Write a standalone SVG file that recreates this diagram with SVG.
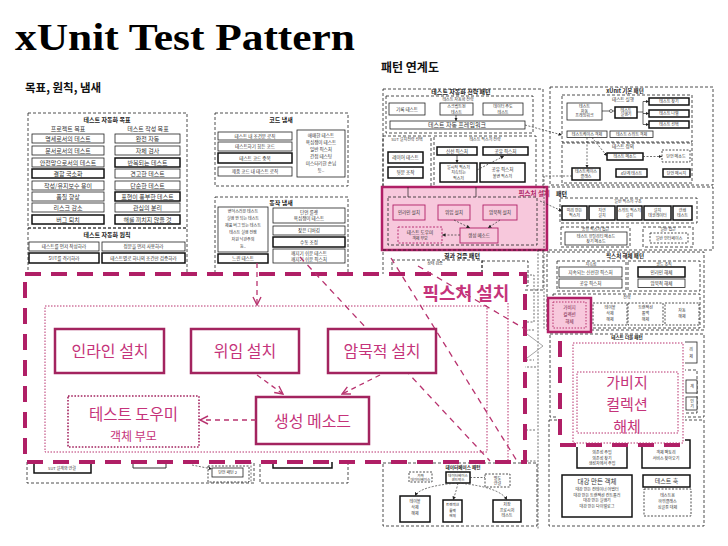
<svg xmlns="http://www.w3.org/2000/svg" width="728" height="546" viewBox="0 0 728 546">
<style>
text{font-family:"Noto Sans CJK KR","Noto Sans",sans-serif;fill:#333;text-anchor:middle}
.t{font-size:6px}
.s{font-size:4.6px}
.xs{font-size:4px}
.h{font-weight:bold;fill:#222}
.d{fill:none;stroke:#222;stroke-width:.8;stroke-dasharray:3 2}
.dd{fill:#fff;stroke:#222;stroke-width:.8;stroke-dasharray:2 1.5}
.b{fill:#fff;stroke:#222;stroke-width:.8}
.bb{fill:#fff;stroke:#111;stroke-width:1.5}
.k{fill:none;stroke:#222;stroke-width:.7}
.kd{fill:none;stroke:#333;stroke-width:.7;stroke-dasharray:2 1.5}
.pk{fill:#f7c8dc;stroke:#b01f66;stroke-width:.9}
.pkd{fill:#f7c8dc;stroke:#b01f66;stroke-width:.9;stroke-dasharray:2 1.5}
.P{fill:#c5337a}
.pb{fill:#fff;stroke:#a3245f;stroke-width:2.5}
.pl{fill:none;stroke:#b8336f;stroke-width:1.3;stroke-dasharray:6 5}
.pa{fill:none;stroke:#b8336f;stroke-width:1.3;stroke-dasharray:5 4}
.pdot{fill:none;stroke:#b8336f;stroke-width:1;stroke-dasharray:1.5 1.5}
.big{fill:#fff;stroke:#b01f66;stroke-width:4;stroke-dasharray:16 10}
</style>
<defs>
<marker id="pa" viewBox="0 0 10 10" refX="9" refY="5" markerWidth="10" markerHeight="10" markerUnits="userSpaceOnUse" orient="auto"><path d="M1,1 L9,5 L1,9" fill="none" stroke="#b8336f" stroke-width="1.4"/></marker>
<marker id="ka" viewBox="0 0 6 6" refX="6" refY="3" markerWidth="3.5" markerHeight="3.5" markerUnits="userSpaceOnUse" orient="auto"><path d="M0,0 L6,3 L0,6z" fill="#222"/></marker>
</defs>
<rect width="728" height="546" fill="#fff"/>

<text x="15" y="50" style="font-family:'Liberation Serif',serif;font-weight:bold;font-size:38px;fill:#000;text-anchor:start" textLength="340" lengthAdjust="spacingAndGlyphs">xUnit Test Pattern</text>
<text x="25" y="92" style="font-size:11.5px;font-weight:bold;fill:#111;text-anchor:start">목표, 원칙, 냄새</text>
<text x="381" y="72" style="font-size:12px;font-weight:bold;fill:#111;text-anchor:start">패턴 연계도</text>

<!-- Left: goals -->
<g id="goals">
<rect class="d" x="28" y="113" width="159" height="115"/>
<text class="t h" x="107" y="122">테스트 자동화 목표</text>
<text class="t" x="68" y="131">프로젝트 목표</text>
<text class="t" x="148" y="131">테스트 작성 목표</text>
<rect class="b" x="32" y="134" width="72" height="9"/><text class="t" x="68" y="140.7">명세로서의 테스트</text>
<rect class="b" x="32" y="146" width="72" height="9"/><text class="t" x="68" y="152.7">문서로서의 테스트</text>
<rect class="b" x="32" y="158" width="72" height="9"/><text class="t" x="68" y="164.7">안전망으로서의 테스트</text>
<rect class="bb" x="32" y="169" width="72" height="9"/><text class="t" x="68" y="175.7">결함 국소화</text>
<rect class="b" x="32" y="181" width="72" height="9"/><text class="t" x="68" y="187.7">작성/유지보수 용이</text>
<rect class="b" x="32" y="192" width="72" height="9"/><text class="t" x="68" y="198.7">품질 향상</text>
<rect class="b" x="32" y="203" width="72" height="9"/><text class="t" x="68" y="209.7">리스크 감소</text>
<rect class="bb" x="32" y="215" width="72" height="9"/><text class="t" x="68" y="221.7">버그 퇴치</text>
<rect class="b" x="115" y="134" width="65" height="9"/><text class="t" x="147.5" y="140.7">완전 자동</text>
<rect class="b" x="115" y="146" width="65" height="9"/><text class="t" x="147.5" y="152.7">자체 검사</text>
<rect class="bb" x="115" y="158" width="65" height="9"/><text class="t" x="147.5" y="164.7">반복되는 테스트</text>
<rect class="b" x="115" y="169" width="65" height="9"/><text class="t" x="147.5" y="175.7">견고한 테스트</text>
<rect class="b" x="115" y="181" width="65" height="9"/><text class="t" x="147.5" y="187.7">단순한 테스트</text>
<rect class="bb" x="115" y="192" width="65" height="9"/><text class="t" x="147.5" y="198.7">표현이 풍부한 테스트</text>
<rect class="b" x="115" y="203" width="65" height="9"/><text class="t" x="147.5" y="209.7">관심의 분리</text>
<rect class="bb" x="115" y="215" width="65" height="9"/><text class="t" x="147.5" y="221.7">해를 끼치지 않을 것</text>
</g>

<g id="principles">
<rect class="d" x="28" y="228" width="159" height="52"/>
<text class="t h" x="107" y="237">테스트 자동화 원칙</text>
<rect class="b" x="29" y="242" width="70" height="9"/><text class="s" x="64" y="248.3">테스트를 먼저 작성하라</text>
<rect class="b" x="102" y="242" width="83" height="9"/><text class="s" x="143.5" y="248.3">정문을 먼저 사용하라</text>
<rect class="bb" x="29" y="253" width="70" height="10"/><text class="s" x="64" y="259.8">SUT를 격리하라</text>
<rect class="bb" x="102" y="253" width="83" height="10"/><text class="s" x="143.5" y="259.8">테스트별로 하나의 조건만 검증하라</text>
</g>

<!-- Middle: smells -->
<g id="code-smells">
<rect class="d" x="215" y="113" width="133" height="73"/>
<text class="t h" x="281" y="122">코드 냄새</text>
<rect class="b" x="218" y="132" width="74" height="8"/><text class="s" x="255" y="137.7">테스트 내 조건문 로직</text>
<rect class="b" x="218" y="142" width="74" height="9"/><text class="s" x="255" y="148.2">테스트하기 힘든 코드</text>
<rect class="bb" x="218" y="153" width="74" height="10"/><text class="s" x="255" y="159.7">테스트 코드 중복</text>
<rect class="b" x="218" y="167" width="74" height="9"/><text class="s" x="255" y="173.2">제품 코드 내 테스트 로직</text>
<rect class="b" x="297" y="130" width="48" height="47"/>
<text class="s" x="321" y="137">애매한 테스트</text>
<text class="s" x="321" y="144">욕심쟁이 테스트</text>
<text class="s" x="321" y="151">일반 픽스처</text>
<text class="s" x="321" y="158">간접 테스팅</text>
<text class="s" x="321" y="165">미스터리한 손님</text>
<text class="s" x="321" y="172">등..</text>
</g>

<g id="behavior-smells">
<rect class="d" x="215" y="197" width="133" height="90"/>
<text class="t h" x="281" y="205">동작 냄새</text>
<rect class="b" x="218" y="207" width="50" height="45"/>
<text class="xs" x="243" y="213">변덕스러운 테스트</text>
<text class="xs" x="243" y="220">실행 안 되는 테스트</text>
<text class="xs" x="243" y="227">제품 버그 있는 테스트</text>
<text class="xs" x="243" y="234">테스트 실행 전쟁</text>
<text class="xs" x="243" y="241">자원 낙관주의</text>
<text class="xs" x="243" y="248">등..</text>
<rect class="bb" x="218" y="254" width="50" height="9"/><text class="s" x="243" y="260.3">느린 테스트</text>
<rect class="b" x="273" y="208" width="72" height="15"/><text class="s" x="309" y="214">단언 룰렛</text><text class="s" x="309" y="220">욕심쟁이 테스트</text>
<rect class="b" x="273" y="226" width="72" height="9"/><text class="s" x="309" y="232.2">잦은 디버깅</text>
<rect class="bb" x="273" y="237" width="72" height="10"/><text class="s" x="309" y="243.7">수동 조정</text>
<rect class="b" x="273" y="249" width="72" height="14"/><text class="s" x="309" y="255">깨지기 쉬운 테스트</text><text class="s" x="309" y="261">깨지기 쉬운 픽스처</text>
</g>

<!-- Right: pattern map -->
<g id="strategy-patterns">
<rect class="d" x="383" y="89" width="160" height="101"/>
<text class="t h" x="461" y="94">테스트 자동화 전략 패턴</text>
<rect class="d" x="386" y="96" width="147" height="37"/>
<text class="xs" x="458" y="101">테스트 자동화 전략</text>
<rect class="b" x="389" y="103" width="36" height="12"/><text class="s" x="407" y="110.6">기록 테스트</text>
<rect class="b" x="440" y="103" width="33" height="12"/><text class="xs" x="456.5" y="108">스크립트된</text><text class="xs" x="456.5" y="113.5">테스트</text>
<rect class="b" x="483" y="103" width="40" height="12"/><text class="xs" x="503" y="108">데이터 주도</text><text class="xs" x="503" y="113.5">테스트</text>
<rect class="b" x="390" y="121" width="135" height="8"/><text class="t" x="457" y="127.2">테스트 자동 프레임워크</text>
<path class="k" d="M456,115 V121" marker-end="url(#ka)"/>
</g>
<g id="sut-strategy">
<rect class="d" x="383" y="136" width="48" height="60"/>
<text class="xs" x="407" y="141">SUT 설치전략 선택</text>
<rect class="bb" x="388" y="152" width="35" height="11"/><text class="s" x="405.5" y="159.4">레이어 테스트</text>
<rect class="bb" x="388" y="167" width="35" height="11"/><text class="s" x="405.5" y="174.4">뒷문 조작</text>
</g>
<g id="fixture-strategy">
<rect class="d" x="434" y="136" width="102" height="60"/>
<text class="xs" x="485" y="141">테스트 픽스처 전략</text>
<rect class="bb" x="437" y="147" width="40" height="8"/><text class="s" x="457" y="152.7">신선 픽스처</text>
<rect class="bb" x="483" y="147" width="45" height="8"/><text class="s" x="505.5" y="152.7">공유 픽스처</text>
<rect class="bb" x="440" y="163" width="37" height="19"/><text class="xs" x="458.5" y="168.5">일시적 픽스처</text><text class="xs" x="458.5" y="174">지속되는</text><text class="xs" x="458.5" y="179.5">픽스처</text>
<rect class="bb" x="480" y="163" width="45" height="19"/><text class="s" x="502.5" y="171">공유 픽스처</text><text class="xs" x="502.5" y="177.5">불변 픽스처</text>
<path class="k" d="M457,155 V163" marker-end="url(#ka)"/>
<path class="kd" d="M477,170 L504,156" marker-end="url(#ka)"/>
</g>

<g id="xunit-basic">
<rect class="d" x="550" y="87" width="163" height="98"/>
<text class="t h" x="625" y="92.5" style="font-size:5.5px">xUnit 기본 패턴</text>
<rect class="d" x="562" y="95" width="130" height="47"/>
<text class="s" x="623" y="101">테스트 실행</text>
<rect class="b" x="567" y="103" width="35" height="17"/><text class="xs" x="584.5" y="108">테스트</text><text class="xs" x="584.5" y="112.5">자동</text><text class="xs" x="584.5" y="117">프레임워크</text>
<rect class="bb" x="615" y="107" width="22" height="11"/><text class="xs" x="626" y="111.5">테스트</text><text class="xs" x="626" y="116">실행기</text>
<rect class="bb" x="649" y="98" width="40" height="7"/><text class="xs" x="669" y="103">테스트 찾기</text>
<rect class="bb" x="649" y="110" width="40" height="7"/><text class="xs" x="669" y="115">테스트 나열</text>
<rect class="bb" x="649" y="121" width="40" height="7"/><text class="xs" x="669" y="126">테스트 선택</text>
<path class="k" d="M602,111 H615"/><circle cx="611" cy="111" r="1.5" fill="#fff" stroke="#222" stroke-width=".6"/>
<path class="k" d="M637,112 H643 M643,101.5 V124.5"/>
<path class="k" d="M643,101.5 H649" marker-end="url(#ka)"/>
<path class="k" d="M643,113.5 H649" marker-end="url(#ka)"/>
<path class="k" d="M643,124.5 H649" marker-end="url(#ka)"/>
<rect class="b" x="567" y="131" width="40" height="6.5"/><text class="xs" x="587" y="135.8">테스트케이스 객체</text>
<rect class="b" x="610" y="131" width="43" height="6.5"/><text class="xs" x="631.5" y="135.8">테스트 스위트 객체</text>
<rect class="d" x="562" y="143" width="130" height="40"/>
<text class="s" x="623" y="148">테스트 정의</text>
<rect class="bb" x="607" y="153" width="36" height="7"/><text class="xs" x="625" y="158">테스트 메소드</text>
<rect class="dd" x="662" y="150" width="28" height="12"/><text class="xs" x="676" y="157.5">단언 메소드</text>
<rect class="bb" x="572" y="168" width="28" height="12"/><text class="xs" x="586" y="173">테스트케이스</text><text class="xs" x="586" y="178">클래스</text>
<rect class="bb" x="616" y="169" width="31" height="8"/><text class="xs" x="631.5" y="174.5">4단계 테스트</text>
<rect class="bb" x="663" y="169" width="27" height="8"/><text class="xs" x="676.5" y="174.5">단언 메시지</text>
</g>

<g id="fixture-setup-more">
<rect class="d" x="547" y="187" width="166" height="63"/>
<text class="t h" x="556" y="196" style="text-anchor:start">패턴</text>
<rect class="d" x="560" y="198" width="137" height="25"/>
<text class="xs" x="628" y="203">일반 픽스처 구조</text>
<rect class="bb" x="562" y="206" width="25" height="14"/><text class="xs" x="574.5" y="211.5">미리 만든</text><text class="xs" x="574.5" y="217">픽스처</text>
<rect class="bb" x="589" y="206" width="26" height="14"/><text class="xs" x="602" y="211.5">지연</text><text class="xs" x="602" y="217">설치</text>
<rect class="bb" x="617" y="206" width="25" height="14"/><text class="xs" x="629.5" y="211.5">스위트 픽스처</text><text class="xs" x="629.5" y="217">설치</text>
<rect class="bb" x="644" y="206" width="27" height="14"/><text class="xs" x="657.5" y="211.5">설치</text><text class="xs" x="657.5" y="217">데코레이터</text>
<rect class="bb" x="673" y="206" width="19" height="14"/><text class="xs" x="682.5" y="211.5">연쇄</text><text class="xs" x="682.5" y="217">테스트</text>
<rect class="d" x="561" y="227" width="69" height="20"/>
<text class="xs" x="595.5" y="231">공유 픽스처 접근</text>
<rect class="b" x="565" y="232" width="62" height="13"/><text class="xs" x="596" y="237.5">테스트 유틸리티 메소드</text><text class="xs" x="596" y="243">찾기 메소드</text>
<rect class="d" x="643" y="227" width="50" height="20"/>
<text class="xs" x="668" y="231">일반 접근</text>
<rect class="dd" x="650" y="233" width="38" height="10"/><text class="xs" x="669" y="239.5">일반 인터페이스</text>
</g>

<g id="fixture-setup-thumb">
<rect x="382" y="187" width="165" height="63" fill="#f7c8dc" stroke="#b01f66" stroke-width="2.5"/>
<rect class="d" x="388" y="197" width="149" height="48"/>
<rect class="pk" x="393" y="205" width="32" height="15"/><text class="s" x="409" y="214">인라인 설치</text>
<rect class="pk" x="438" y="205" width="32" height="15"/><text class="s" x="454" y="214">위임 설치</text>
<rect class="pk" x="483" y="205" width="34" height="15"/><text class="s" x="500" y="214">암묵적 설치</text>
<rect class="pkd" x="398" y="227" width="44" height="16"/><text class="s" x="420" y="234">테스트 도우미</text><text class="xs" x="420" y="240">객체 부모</text>
<rect class="pk" x="460" y="228" width="38" height="15"/><text class="s" x="479" y="237">생성 메소드</text>
<path class="kd" d="M454,220 L470,228" marker-end="url(#ka)"/>
<path class="kd" d="M500,220 L488,228" marker-end="url(#ka)"/>
<path class="kd" d="M460,235 H442" marker-end="url(#ka)"/>
<path class="k" d="M408,187 V197 M476,187 V197"/>
<text class="t h" x="550" y="196" style="text-anchor:end;fill:#b01f66;font-size:6.5px">픽스처 설치</text>
</g>

<g id="result-verification">
<rect class="d" x="383" y="250" width="160" height="40"/>
<text class="t h" x="462" y="258">결과 검증 패턴</text>
<rect class="d" x="392" y="260" width="90" height="25"/>
<text class="xs" x="435" y="264.5">상태 검증</text>
<rect class="d" x="482" y="261" width="46" height="25"/>
</g>

<g id="fixture-teardown">
<rect class="d" x="547" y="252" width="157" height="78"/>
<text class="t h" x="625" y="258" style="font-size:5.5px">픽스처 해체 패턴</text>
<rect class="d" x="557" y="261" width="69" height="30"/>
<text class="xs" x="591" y="265.5">지속성</text>
<rect class="b" x="559" y="267" width="63" height="10"/><text class="s" x="590.5" y="273.6">지속되는 신선한 픽스처</text>
<rect class="b" x="559" y="279" width="63" height="9"/><text class="s" x="590.5" y="285.2">공유 픽스처</text>
<rect class="d" x="628" y="261" width="72" height="30"/>
<text class="xs" x="664" y="265.5">코드 조직</text>
<rect class="bb" x="638" y="267" width="47" height="10"/><text class="s" x="661.5" y="273.6">인라인 해체</text>
<rect class="b" x="638" y="279" width="47" height="8.5"/><text class="s" x="661.5" y="285">암묵적 해체</text>
<rect class="d" x="553" y="294" width="147" height="34"/>
<text class="xs" x="627" y="298.5">전략</text>
<rect class="dd" x="593" y="303" width="34" height="22"/><text class="xs" x="610" y="309">테이블</text><text class="xs" x="610" y="315">삭제</text><text class="xs" x="610" y="321">해체</text>
<rect class="dd" x="628" y="303" width="35" height="22"/><text class="xs" x="645.5" y="309">트랜잭션</text><text class="xs" x="645.5" y="315">롤백</text><text class="xs" x="645.5" y="321">해체</text>
<rect class="dd" x="665" y="303" width="34" height="22"/><text class="xs" x="682" y="312">자동</text><text class="xs" x="682" y="318">해체</text>
</g>
<g id="garbage-thumb">
<rect x="548" y="298" width="43" height="34" fill="#f7c8dc" stroke="#b01f66" stroke-width="2.5"/>
<rect class="pdot" x="553" y="302" width="33" height="26"/>
<text class="s" x="569.5" y="309" style="fill:#7a1c4a">가비지</text>
<text class="s" x="569.5" y="316" style="fill:#7a1c4a">컬렉션</text>
<text class="s" x="569.5" y="323" style="fill:#7a1c4a">해체</text>
</g>

<g id="test-double">
<rect class="d" x="550" y="334" width="154" height="83"/>
<text class="s h" x="627" y="339">테스트 더블 패턴</text>
<rect class="b" x="683" y="342" width="14" height="21"/><text class="xs" x="691" y="351">리</text><text class="xs" x="691" y="358">체</text>
<rect class="d" x="683" y="370" width="14" height="43"/>
<rect class="b" x="686" y="380" width="11" height="13"/><text class="xs" x="692" y="388">계</text>
<rect class="b" x="686" y="397" width="11" height="13"/><text class="xs" x="692" y="403">인</text><text class="xs" x="692" y="408">기</text>
</g>

<g id="design-patterns">
<rect class="d" x="549" y="420" width="155" height="106"/>
<rect class="bb" x="577" y="440" width="50" height="28"/>
<text class="xs" x="602" y="454">의존성 주입</text><text class="xs" x="602" y="459.5">의존성 찾기</text><text class="xs" x="602" y="465">생성자에서 주입</text>
<rect class="bb" x="642" y="440" width="48" height="28"/>
<text class="xs" x="666" y="454">객체 팩토리</text><text class="xs" x="666" y="460">서비스 찾아오기</text>
<rect class="bb" x="562" y="475" width="70" height="42"/>
<text class="t" x="597" y="484" style="font-size:6.5px">대강 만든 객체</text>
<text class="xs" x="597" y="491">대강 만든 컨테이너 어댑터</text>
<text class="xs" x="597" y="496.5">대강 만든 트랜잭션 컨트롤러</text>
<text class="xs" x="597" y="502">대강 만든 실행기</text>
<text class="xs" x="597" y="507.5">대강 만든 다이얼로그</text>
<rect class="bb" x="643" y="475" width="47" height="12"/><text class="t" x="666.5" y="483">테스트 훅</text>
<rect class="dd" x="644" y="489" width="47" height="27"/>
<text class="xs" x="667.5" y="497">테스트용</text><text class="xs" x="667.5" y="503">하위클래스</text><text class="xs" x="667.5" y="509">싱글톤 대체</text>
</g>

<g id="database-patterns">
<rect class="d" x="383" y="463" width="154" height="63"/>
<text class="s h" x="463" y="469">데이터베이스 패턴</text>
<rect class="dd" x="409" y="472" width="23" height="10"/><text class="xs" x="420.5" y="476.5" style="font-size:3.6px">가짜</text><text class="xs" x="420.5" y="480.5" style="font-size:3.6px">데이터베이스</text>
<rect class="bb" x="446" y="472" width="24" height="11"/><text class="xs" x="458" y="476.5" style="font-size:3.6px">데이터베이스</text><text class="xs" x="458" y="481" style="font-size:3.6px">샌드박스</text>
<rect class="dd" x="485" y="474" width="25" height="13"/><text class="xs" x="497.5" y="479.5">별도</text><text class="xs" x="497.5" y="484.5">연결</text>
<path class="kd" d="M470,477.5 H485"/>
<rect class="bb" x="400" y="496" width="30" height="26"/><text class="xs" x="415" y="503">테이블</text><text class="xs" x="415" y="509">삭제</text><text class="xs" x="415" y="515">해체</text>
<rect class="bb" x="443" y="500" width="19" height="22"/><text class="xs" x="452.5" y="506" style="font-size:3.6px">트랜잭션</text><text class="xs" x="452.5" y="511.5" style="font-size:3.6px">롤백</text><text class="xs" x="452.5" y="517" style="font-size:3.6px">해체</text>
<rect class="bb" x="493" y="500" width="28" height="22"/><text class="xs" x="507" y="506">저장</text><text class="xs" x="507" y="511.5">프로시저</text><text class="xs" x="507" y="517">테스트</text>
<path class="kd" d="M458,483 Q420,486 415,496" marker-end="url(#ka)"/>
<path class="kd" d="M458,483 Q456,492 453,500" marker-end="url(#ka)"/>
<path class="kd" d="M458,483 Q500,487 507,500" marker-end="url(#ka)"/>
</g>

<g id="left-bottom">
<rect class="d" x="27" y="430" width="227" height="53"/>
<rect class="d" x="260" y="430" width="88" height="53"/>
<path d="M34,462 V473 H91 V462" fill="none" stroke="#111" stroke-width="1.5"/>
<text class="xs" x="62" y="470">SUT 설계와 연결</text>
<path d="M133,462 V468 H166 V462" fill="none" stroke="#333" stroke-width="1"/>
<path d="M273,462 V468 H332 V462" fill="none" stroke="#111" stroke-width="1.5"/>
<rect class="dd" x="208" y="466" width="41" height="16"/>
<rect class="b" x="212" y="468" width="31" height="9"/><text class="xs" x="227.5" y="474.3">단언 패턴 2</text>
<path class="kd" d="M192,465 L212,469" marker-end="url(#ka)"/>
<path class="kd" d="M251,462 V483"/>
</g>

<g id="connectors">
<path class="kd" d="M525,125 L562,135" marker-end="url(#ka)"/>
<path class="kd" d="M587,137.5 V168" marker-end="url(#ka)"/>
<path class="kd" d="M592,137.5 L607,156" marker-end="url(#ka)"/>
<path class="kd" d="M643,156.5 H662" marker-end="url(#ka)"/>
<path class="kd" d="M540,201 L562,211" marker-end="url(#ka)"/>
<path class="kd" d="M572,176 H544 V330"/>
<path class="kd" d="M538,250 V530"/>
<path class="kd" d="M523,275 H534 V322 H523"/>
<path class="kd" d="M534,330 H524 V360 H534"/>
<path class="kd" d="M536,367 H524 V430 H536"/>
<path d="M527,334 L543,346 L527,358" fill="none" stroke="#9a9a9a" stroke-width=".9"/>
<path class="kd" d="M523,461 H537"/>
</g>

<!-- Magnified: fixture setup -->
<g id="fixture-setup">
<rect class="big" x="25" y="274" width="500" height="188"/>
<rect class="pdot" x="45" y="306" width="442" height="146"/>
<path class="pdot" d="M508,303 V461"/>
</g>

<g id="fixture-setup-connectors">
<path class="pl" d="M300,257 L490,461"/>
<path class="pl" d="M391,258 L517,461"/>
<path class="pl" d="M418,266 L530,332"/>
<path class="pa" d="M257,263 V305" marker-end="url(#pa)"/>
</g>

<text x="466" y="300" style="font-size:18px;font-weight:bold;fill:#c5337a">픽스처 설치</text>

<g id="inline-setup">
<rect class="pb" x="55" y="329" width="109" height="44"/>
<text class="P" x="110" y="357" style="font-size:16px">인라인 설치</text>
</g>
<g id="delegated-setup">
<rect class="pb" x="191" y="329" width="108" height="44"/>
<text class="P" x="245" y="357" style="font-size:16px">위임 설치</text>
</g>
<g id="implicit-setup">
<rect class="pb" x="328" y="329" width="108" height="44"/>
<text class="P" x="382" y="357" style="font-size:16px">암묵적 설치</text>
</g>
<g id="creation-method">
<rect class="pb" x="256" y="397" width="113" height="47"/>
<text class="P" x="312.5" y="427" style="font-size:16px">생성 메소드</text>
</g>
<g id="test-helper">
<rect x="68" y="396" width="131" height="51" fill="#fff" stroke="#a3245f" stroke-width="1.6" stroke-dasharray="1.6 1.6"/>
<text class="P" x="133.5" y="419.5" style="font-size:15.5px">테스트 도우미</text>
<text class="P" x="133.5" y="440.5" style="font-size:12px">객체 부모</text>
</g>
<g id="fixture-setup-arrows">
<path class="pa" d="M257,375 L283,394" marker-end="url(#pa)"/>
<path class="pa" d="M380,375 L342,394" marker-end="url(#pa)"/>
<path class="pa" d="M256,420 H200" marker-end="url(#pa)"/>
</g>

<!-- Magnified: garbage-collected teardown -->
<g id="garbage-collection">
<rect x="558" y="340" width="127" height="107" fill="#fff"/>
<path d="M560,341 V445 H684" fill="none" stroke="#b01f66" stroke-width="4" stroke-dasharray="16 10"/>
<rect class="pdot" x="573" y="343" width="110" height="100"/>
<rect class="pdot" x="577" y="372" width="101" height="61"/>
<text class="P" x="627" y="388" style="font-size:15px">가비지</text>
<text class="P" x="627" y="410" style="font-size:15px">컬렉션</text>
<text class="P" x="627" y="432" style="font-size:15px">해체</text>
</g>
</svg>
